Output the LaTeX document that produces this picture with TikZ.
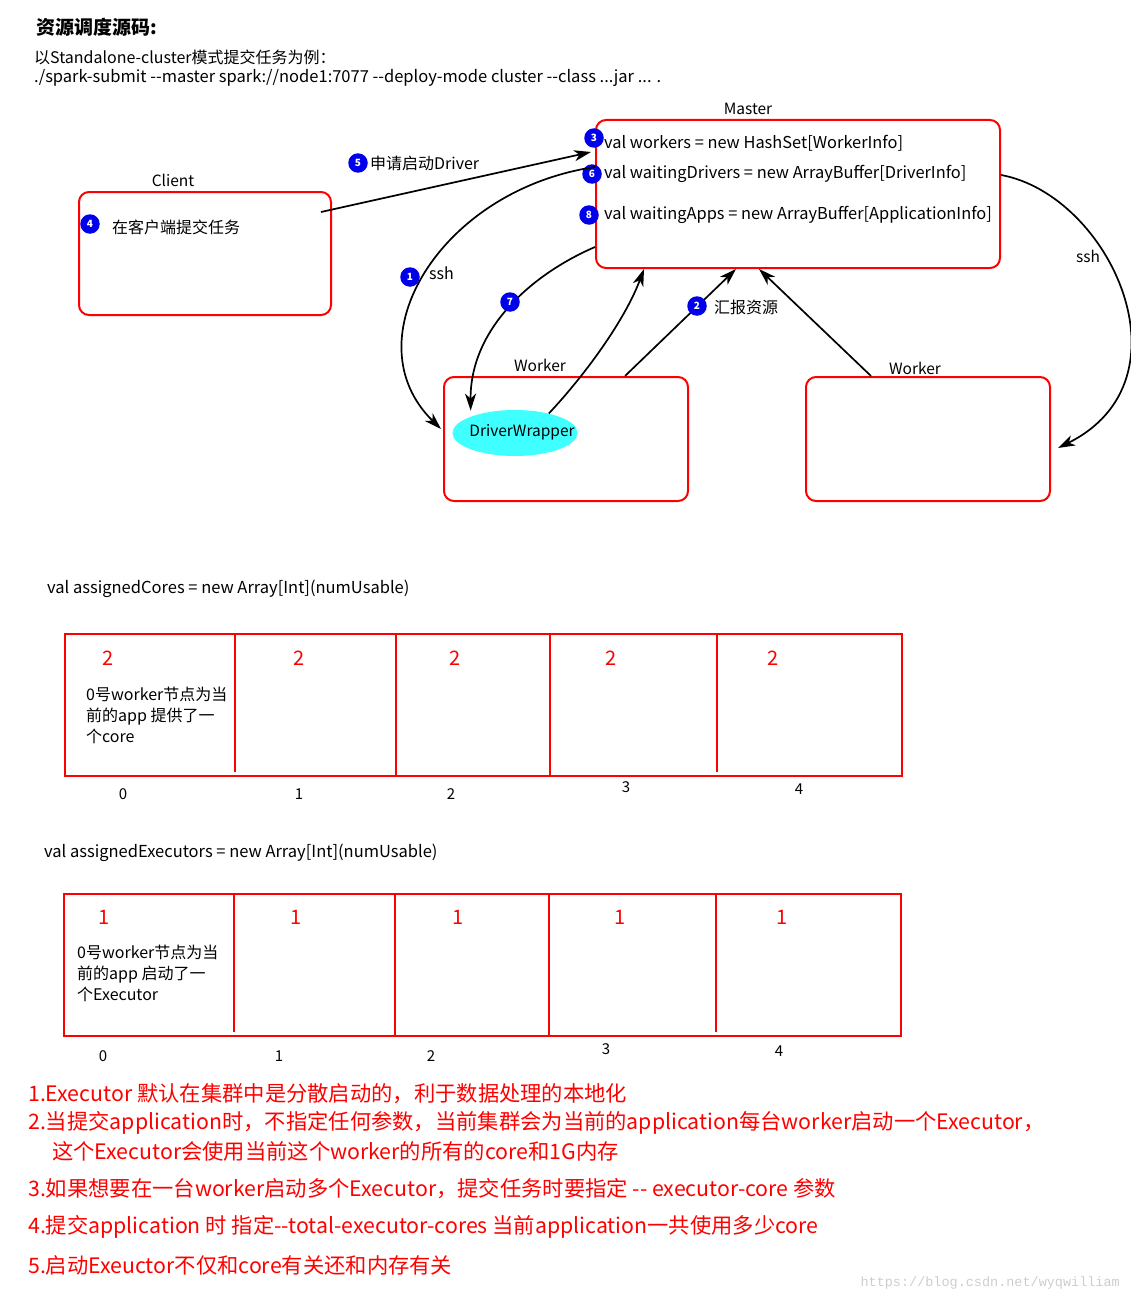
\documentclass[tikz,border=0pt]{standalone}
\usepackage{fontspec}
\setmainfont{Noto Sans CJK SC}[Ligatures=TeXOff]
\newfontfamily\markfont{Liberation Mono}
\usepackage{tikz}
\usetikzlibrary{shapes.geometric, arrows.meta, positioning}
\definecolor{boxred}{RGB}{255,0,0}
\definecolor{badgeblue}{RGB}{0,0,235}
\definecolor{wrapcyan}{RGB}{64,255,255}
\definecolor{markgray}{RGB}{205,205,205}
\tikzset{
  redbox/.style={rectangle, rounded corners=10pt, draw=boxred, line width=2pt},
  arraybox/.style={rectangle, draw=boxred, line width=2.5pt},
  cellline/.style={draw=boxred, line width=1.5pt},
  badge/.style={circle, fill=badgeblue, text=white, inner sep=0pt, minimum size=19.5pt, font=\fontsize{10}{10}\selectfont\bfseries},
  txt/.style={anchor=west, inner sep=0pt, font=\fontsize{16}{16}\selectfont},
  code/.style={anchor=west, inner sep=0pt, font=\fontsize{16.4}{16.4}\selectfont},
  lbl/.style={inner sep=0pt, font=\fontsize{15.5}{15.5}\selectfont},
  cellnum/.style={text=boxred, inner sep=0pt, font=\fontsize{20}{20}\selectfont},
  idx/.style={inner sep=0pt, font=\fontsize{15}{15}\selectfont},
  note/.style={anchor=west, inner sep=0pt, text=boxred, font=\fontsize{21.3}{21.3}\selectfont},
  arrow/.style={-{Stealth[length=17pt,width=11pt,inset=5pt]}, line width=1.7pt},
}
\begin{document}
\begin{tikzpicture}[x=1pt, y=-1pt]
  \useasboundingbox (0,0) rectangle (1130,1303);
  % Heading
  \node[txt, font=\fontsize{19}{19}\selectfont\bfseries] (title) at (36,27) {资源调度源码:};
  \node[txt] (intro) at (34,57) {以Standalone-cluster模式提交任务为例：};
  \node[txt, font=\fontsize{16.5}{16.5}\selectfont] (cmd) at (34,78) {./spark-submit --master spark://node1:7077 --deploy-mode cluster --class ...jar ... .};

  % Client
  \node[redbox, minimum width=252pt, minimum height=123pt] (client) at (205,253.5) {};
  \node[lbl] (clientlbl) at (173,180) {Client};
  \node[badge] (b4) at (90,224) {4};
  \node[txt] (submit) at (112,227) {在客户端提交任务};

  % Master
  \node[redbox, minimum width=404pt, minimum height=148pt] (master) at (798,194) {};
  \node[lbl] (masterlbl) at (748,109) {Master};
  \node[code] (workers) at (604,143) {val workers = new HashSet[WorkerInfo]};
  \node[code] (drivers) at (604,174) {val waitingDrivers = new ArrayBuffer[DriverInfo]};
  \node[code] (apps) at (604,215) {val waitingApps = new ArrayBuffer[ApplicationInfo]};
  \node[badge] (b3) at (594,138) {3};
  \node[badge] (b6) at (592,174) {6};
  \node[badge] (b8) at (589,215) {8};

  % Workers
  \node[redbox, minimum width=244pt, minimum height=124pt] (worker1) at (566,439) {};
  \node[lbl] (worker1lbl) at (540,365) {Worker};
  \node[ellipse, fill=wrapcyan, minimum width=125pt, minimum height=46pt, inner sep=0pt] (dw) at (515,433) {};
  \node[lbl] (dwtext) at (522,432) {DriverWrapper};
  \node[redbox, minimum width=244pt, minimum height=124pt] (worker2) at (928,439) {};
  \node[lbl] (worker2lbl) at (915,368) {Worker};

  % Arrows
  \draw[arrow] ([xshift=-11pt,yshift=-21pt]client.north east) -- ([xshift=-4pt,yshift=-33pt]master.north west);
  \node[badge] (b5) at (358,163) {5};
  \node[txt] (apply) at (370,163) {申请启动Driver};
  \draw[arrow] ([yshift=-48pt]master.north west) .. controls (440,190) and (350,340) .. ([xshift=-2pt,yshift=-53pt]worker1.north west);
  \node[badge] (b1) at (410,277) {1};
  \node[txt] (sshleft) at (429,273) {ssh};
  \draw[arrow] ([yshift=-128pt]master.north west) .. controls (530,275) and (470,330) .. ([yshift=6pt]dw.north west);
  \node[badge] (b7) at (510,302) {7};
  \draw[arrow] (dw.30) .. controls (585,375) and (625,320) .. ([xshift=-154pt]master.south);
  \draw[arrow] ([xshift=59pt]worker1.north) -- ([xshift=-62pt]master.south);
  \node[badge] (b2) at (697,306) {2};
  \node[txt] (report) at (714,307) {汇报资源};
  \draw[arrow] ([xshift=-57pt]worker2.north) -- ([xshift=-39pt]master.south);
  \draw[arrow] ([yshift=-56pt]master.north east) .. controls (1110,195) and (1195,380) .. ([xshift=7pt,yshift=-9pt]worker2.east);
  \node[lbl] (sshright) at (1088,256) {ssh};

  % assignedCores
  \node[txt, font=\fontsize{16.5}{16.5}\selectfont] (coreslbl) at (47,589) {val assignedCores = new Array[Int](numUsable)};
  \node[arraybox, minimum width=837pt, minimum height=142pt] (cores) at (483.5,705) {};
  \foreach \x/\y in {235/772,396/776,550/776,717/772}
    \draw[cellline] (\x,634) -- (\x,\y);
  \foreach \x [count=\i from 0] in {108,299,455,611,773}
    \node[cellnum] (cn\i) at (\x,658) {2};
  \node[txt, align=left, font=\fontsize{16}{21}\selectfont] (coresnote) at (86,715) {0号worker节点为当\\前的app 提供了一\\个core};
  \foreach \x/\y/\t in {123/794/0,299/794/1,451/794/2,626/787/3,799/789/4}
    \node[idx] (ci\t) at (\x,\y) {\t};

  % assignedExecutors
  \node[txt, font=\fontsize{16.5}{16.5}\selectfont] (execslbl) at (44,853) {val assignedExecutors = new Array[Int](numUsable)};
  \node[arraybox, minimum width=837pt, minimum height=142pt] (execs) at (482.5,965) {};
  \foreach \x/\y in {234/1032,395/1036,549/1036,716/1032}
    \draw[cellline] (\x,894) -- (\x,\y);
  \foreach \x [count=\i from 0] in {104,296,458,620,782}
    \node[cellnum] (en\i) at (\x,917) {1};
  \node[txt, align=left, font=\fontsize{16}{21}\selectfont] (execsnote) at (77,973) {0号worker节点为当\\前的app 启动了一\\个Executor};
  \foreach \x/\y/\t in {103/1056/0,279/1056/1,431/1056/2,606/1049/3,779/1051/4}
    \node[idx] (ei\t) at (\x,\y) {\t};

  % Notes
  \node[note] (n1) at (28,1094) {1.Executor 默认在集群中是分散启动的，利于数据处理的本地化};
  \node[note] (n2) at (28,1123) {2.当提交application时，不指定任何参数，当前集群会为当前的application每台worker启动一个Executor，};
  \node[note] (n2b) at (52,1151) {这个Executor会使用当前这个worker的所有的core和1G内存};
  \node[note] (n3) at (28,1189) {3.如果想要在一台worker启动多个Executor，提交任务时要指定 -- executor-core 参数};
  \node[note] (n4) at (28,1227) {4.提交application 时 指定--total-executor-cores 当前application一共使用多少core};
  \node[note] (n5) at (28,1265) {5.启动Exeuctor不仅和core有关还和内存有关};
  \node[anchor=east, inner sep=0pt, text=markgray, font=\markfont\fontsize{13.5}{13.5}\selectfont] (mark) at (1120,1283) {https://blog.csdn.net/wyqwilliam};
\end{tikzpicture}
\end{document}
